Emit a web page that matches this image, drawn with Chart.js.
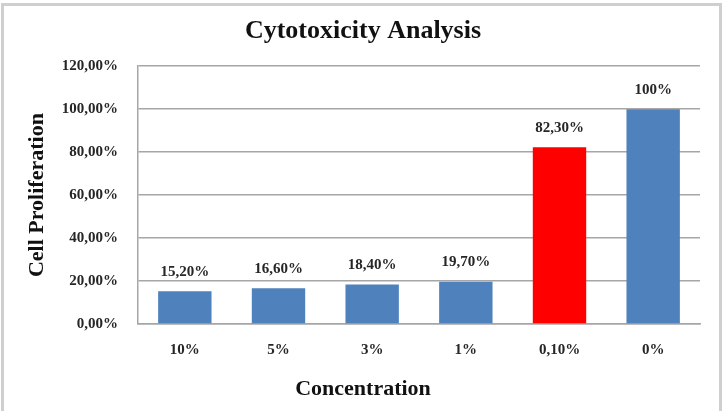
<!DOCTYPE html>
<html>
<head>
<meta charset="utf-8">
<script src="https://cdn.jsdelivr.net/npm/chart.js@4"></script>
<style>
    body { margin: 0; background: #fff; }
    #wrap { position: relative; width: 726px; height: 411px; overflow: hidden; }
    #frame { position: absolute; left: 1px; top: 3px; width: 721px; height: 420px; border: 3px solid #cfcfcf; box-sizing: border-box; }
    canvas { position: absolute; left: 0; top: 0; }
</style>
</head>
<body>
<div id="wrap">
    <div id="frame"></div>
    <canvas id="chart" width="726" height="411"></canvas>
</div>
<script>
// data
const concentrations = ["10%", "5%", "3%", "1%", "0,10%", "0%"];
const proliferation = [15.2, 16.6, 18.4, 19.7, 82.3, 100];
const valueLabels = ["15,20%", "16,60%", "18,40%", "19,70%", "82,30%", "100%"];
const barColors = ["#4f81bd", "#4f81bd", "#4f81bd", "#4f81bd", "#ff0000", "#4f81bd"];
const yTickLabels = ["0,00%", "20,00%", "40,00%", "60,00%", "80,00%", "100,00%", "120,00%"];

const serif = "'Liberation Serif', 'Times New Roman', serif";

// draws the value above each bar
const valueLabelPlugin = {
    id: "valueLabels",
    afterDatasetsDraw(chart) {
        const ctx = chart.ctx;
        const meta = chart.getDatasetMeta(0);
        ctx.save();
        ctx.font = "bold 15px " + serif;
        ctx.fillStyle = "#262626";
        ctx.textAlign = "center";
        ctx.textBaseline = "bottom";
        meta.data.forEach((bar, i) => {
            ctx.fillText(valueLabels[i], bar.x, bar.y - 12);
        });
        ctx.restore();
    }
};

const ctx = document.getElementById("chart").getContext("2d");
new Chart(ctx, {
    type: "bar",
    data: {
        labels: concentrations,
        datasets: [{
            data: proliferation,
            backgroundColor: barColors,
            borderWidth: 0,
            barPercentage: 0.57,
            categoryPercentage: 1.0
        }]
    },
    options: {
        responsive: false,
        animation: false,
        layout: { padding: 0 },
        plugins: {
            legend: { display: false },
            tooltip: { enabled: false },
            title: {
                display: true,
                text: "Cytotoxicity Analysis",
                color: "#111",
                font: { family: serif, size: 26, weight: "bold" },
                padding: { top: 16, bottom: 19 }
            },
            // x axis title, centred on the whole picture like the original
            subtitle: {
                display: true,
                position: "bottom",
                text: "Concentration",
                color: "#111",
                font: { family: serif, size: 22, weight: "bold" },
                padding: { top: 4, bottom: 8 }
            }
        },
        scales: {
            x: {
                grid: { display: false, drawTicks: false },
                border: { color: "#a6a6a6", width: 1.5 },
                ticks: {
                    color: "#262626",
                    padding: 17,
                    font: { family: serif, size: 15, weight: "bold" }
                },
                afterFit(scale) { scale.height = 48.6; }
            },
            y: {
                min: 0,
                max: 120,
                grid: { color: "#a6a6a6", lineWidth: 1.5, drawTicks: false },
                border: { color: "#a6a6a6", width: 1.5 },
                ticks: {
                    stepSize: 20,
                    color: "#262626",
                    padding: 20,
                    font: { family: serif, size: 15, weight: "bold" },
                    callback: (v, i) => yTickLabels[i]
                },
                title: {
                    display: true,
                    text: "Cell Proliferation",
                    color: "#111",
                    font: { family: serif, size: 22, weight: "bold" },
                    padding: { top: 24, bottom: 0 }
                },
                afterFit(scale) { scale.width = 138; }
            },
            // empty right-hand spacer
            spacer: {
                type: "linear",
                position: "right",
                grid: { display: false, drawTicks: false },
                border: { display: false },
                ticks: { display: false },
                afterFit(scale) { scale.width = 26; }
            }
        }
    },
    plugins: [valueLabelPlugin]
});
</script>
</body>
</html>
